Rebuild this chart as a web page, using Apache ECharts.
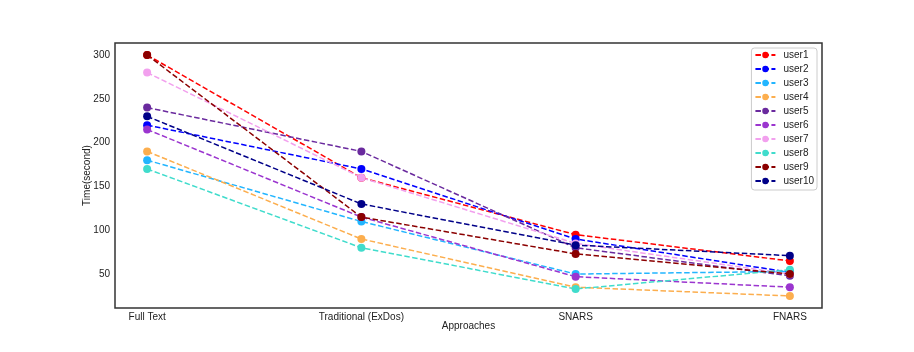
<!DOCTYPE html>
<html>
<head>
<meta charset="utf-8">
<script src="https://cdn.jsdelivr.net/npm/echarts@6/dist/echarts.min.js"></script>
</head>
<body style="margin:0">
<div id="chart" style="width:914px;height:352px"></div>
<script>
var categories = ['Full Text', 'Traditional (ExDos)', 'SNARS', 'FNARS'];
var yTicks = [50, 100, 150, 200, 250, 300];

var user1 = [300, 160, 95, 65];
var user2 = [220, 170, 90, 52];
var user3 = [180, 110, 50, 53];
var user4 = [190, 90, 35, 25];
var user5 = [240, 190, 80, 48];
var user6 = [215, 115, 47, 35];
var user7 = [280, 160, 85, 50];
var user8 = [170, 80, 33, 55];
var user9 = [300, 115, 73, 50];
var user10 = [230, 130, 83, 71];

var users = [
    ['user1', user1, '#ff0000'],
    ['user2', user2, '#0000ff'],
    ['user3', user3, '#22b5ff'],
    ['user4', user4, '#fcae4e'],
    ['user5', user5, '#6a2a9e'],
    ['user6', user6, '#9b35cf'],
    ['user7', user7, '#f2a0ee'],
    ['user8', user8, '#40dccc'],
    ['user9', user9, '#8b0000'],
    ['user10', user10, '#000088']
];

var font = 'Liberation Sans, Arial, sans-serif';
var myChart = echarts.init(document.getElementById('chart'));

var series = users.map(function (u) {
    return {
        name: u[0],
        type: 'line',
        data: u[1].map(function (v, i) { return [i, v]; }),
        symbol: 'circle',
        symbolSize: 8,
        color: u[2],
        lineStyle: { width: 1.5, type: [5.5, 2.5], color: u[2] },
        itemStyle: { color: u[2] },
        animation: false
    };
});

myChart.setOption({
    backgroundColor: '#fff',
    textStyle: { fontFamily: font },
    grid: {
        left: 115, right: 92, top: 43, bottom: 44,
        show: true, borderColor: '#333', borderWidth: 1.5
    },
    legend: {
        orient: 'vertical',
        right: 97, top: 48,
        itemWidth: 20, itemHeight: 8, itemGap: 4,
        padding: [2, 3, 4, 3],
        borderColor: '#ccc', borderWidth: 1, borderRadius: 3,
        backgroundColor: '#fff',
        textStyle: { fontSize: 10, color: '#222', fontFamily: font, padding: [0, 0, 0, 3] },
        data: users.map(function (u) { return u[0]; })
    },
    xAxis: {
        type: 'value',
        min: -0.15, max: 3.15,
        name: 'Approaches',
        nameLocation: 'middle',
        nameGap: 13,
        nameMoveOverlap: false,
        nameTextStyle: { fontSize: 10, color: '#222' },
        axisLine: { show: false },
        axisTick: { show: false },
        splitLine: { show: false },
        axisLabel: {
            customValues: [0, 1, 2, 3],
            fontSize: 10, color: '#222', margin: 4,
            formatter: function (v) { return categories[Math.round(v)]; }
        }
    },
    yAxis: {
        type: 'value',
        min: 11.25, max: 313.75,
        name: 'Time(second)',
        nameLocation: 'middle',
        nameGap: 23,
        nameMoveOverlap: false,
        nameTextStyle: { fontSize: 10, color: '#222' },
        axisLine: { show: false },
        axisTick: { show: false },
        splitLine: { show: false },
        axisLabel: {
            customValues: yTicks,
            fontSize: 10, color: '#222', margin: 5
        }
    },
    series: series
});
</script>
</body>
</html>
